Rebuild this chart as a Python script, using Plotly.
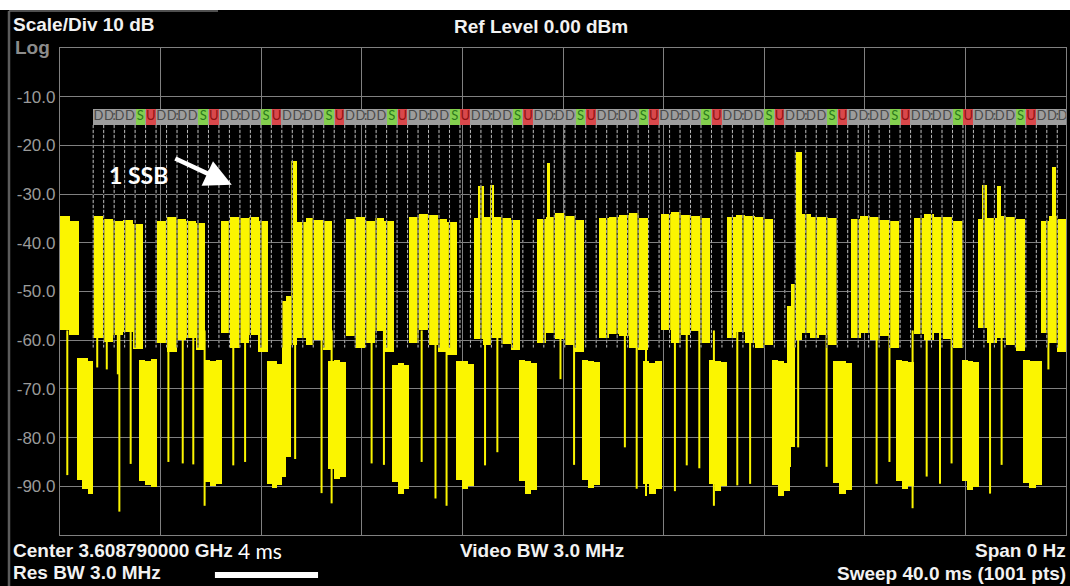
import plotly.graph_objects as go

# ---------------- data ----------------
sweep_ms = [0.0, 40.0]
level_range_dbm = [-100.0, 0.0]
ytick_dbm = [-10, -20, -30, -40, -50, -60, -70, -80, -90]
ytick_labels = ["-10.0", "-20.0", "-30.0", "-40.0", "-50.0", "-60.0", "-70.0", "-80.0", "-90.0"]

# downlink bursts (start/end in ms) with sub-block top and floor levels (dBm)
dl_start_ms = [0.00, 1.32, 3.88, 6.40, 9.42, 11.37, 13.89, 16.46, 18.95, 21.45, 23.92,
               26.51, 29.49, 31.44, 33.96, 36.51, 38.99]
dl_end_ms = [0.76, 3.29, 5.77, 8.27, 10.80, 13.28, 15.77, 18.29, 20.83, 23.39, 25.84,
             28.36, 30.88, 33.37, 35.89, 38.37, 40.00]
dl_top_dbm = [
    [-34.5, -35.5],
    [-34.5, -35.2, -35.6, -35.4, -36.2],
    [-35.6, -34.6, -35.2, -35.5, -36.0],
    [-35.5, -34.8, -35.0, -34.8, -35.6],
    [-35.8, -35.0, -35.4, -35.6],
    [-35.2, -34.7, -35.5, -35.0, -35.6],
    [-34.8, -34.0, -34.3, -35.2, -35.8],
    [-35.0, -34.6, -34.6, -35.0, -35.4],
    [-35.2, -34.8, -33.8, -34.5, -35.3],
    [-35.0, -34.6, -34.2, -33.8, -35.0],
    [-34.0, -33.7, -34.2, -34.5, -35.0],
    [-34.8, -34.2, -34.5, -34.6, -35.2],
    [-34.0, -34.6, -34.8, -35.0],
    [-35.2, -34.5, -34.8, -35.4, -35.6],
    [-35.0, -34.0, -34.8, -34.6, -35.6],
    [-35.2, -35.0, -34.5, -34.8, -35.2],
    [-35.6, -34.5, -35.2],
]
dl_floor_dbm = [
    [-58.0, -59.0],
    [-59.5, -60.3, -59.0, -58.4, -61.8],
    [-60.5, -62.5, -60.0, -59.5, -62.0],
    [-58.5, -61.5, -60.5, -59.0, -62.5],
    [-59.5, -61.0, -60.0, -62.0],
    [-59.2, -61.5, -60.5, -58.2, -62.5],
    [-60.5, -58.0, -61.0, -62.5, -63.0],
    [-59.8, -61.0, -59.5, -60.8, -62.0],
    [-60.5, -58.5, -59.8, -61.0, -62.5],
    [-59.5, -58.8, -59.2, -61.5, -62.0],
    [-58.0, -60.5, -59.0, -58.2, -60.5],
    [-59.5, -58.3, -60.5, -61.5, -61.0],
    [-58.5, -59.5, -59.0, -61.0],
    [-59.5, -58.5, -60.0, -59.2, -61.5],
    [-58.8, -60.0, -58.5, -59.8, -61.5],
    [-57.5, -60.5, -59.5, -61.0, -62.2],
    [-58.5, -60.5, -62.5],
]

# uplink (low level) blocks
ul_start_ms = [0.66, 3.14, 5.73, 8.22, 10.66, 13.19, 15.75, 18.26, 20.74, 23.19, 25.82,
               28.30, 30.75, 33.24, 35.85, 38.31]
ul_end_ms = [1.32, 3.87, 6.45, 8.84, 11.37, 13.89, 16.46, 18.95, 21.45, 23.92, 26.51,
             29.03, 31.48, 33.96, 36.55, 39.03]
ul_top_dbm = [
    [-63.7, -63.7, -64.2], [-64.0, -64.2, -63.8], [-64.0, -64.3, -64.0], [-64.3, -64.3, -64.8],
    [-64.2, -64.0, -64.5], [-65.0, -64.6, -65.0], [-64.3, -64.3, -64.8], [-64.0, -64.2, -64.6],
    [-64.0, -64.2, -64.5], [-64.3, -64.6, -64.3], [-64.0, -64.2, -64.5], [-64.0, -64.3, -64.6],
    [-64.3, -64.3, -64.6], [-64.0, -64.2, -64.5], [-64.0, -64.3, -64.5], [-64.0, -64.2, -64.3],
]
ul_floor_dbm = [
    [-88.7, -90.5, -91.5], [-89.0, -89.8, -90.2], [-89.2, -90.0, -89.5], [-89.6, -90.3, -89.8],
    [-86.5, -88.5, -88.0], [-89.2, -91.5, -90.5], [-88.8, -90.5, -90.0], [-89.0, -91.5, -90.8],
    [-88.7, -90.3, -89.8], [-89.5, -91.6, -90.5], [-89.5, -91.0, -90.0], [-89.7, -92.0, -91.0],
    [-89.4, -91.5, -90.8], [-89.0, -90.5, -90.0], [-89.0, -90.8, -90.2], [-89.4, -90.4, -89.8],
]

# rising edges in front of the SSB bursts
ramp_start_ms = [8.84, 9.00, 28.92, 29.07]
ramp_end_ms = [9.00, 9.18, 29.07, 29.22]
ramp_top_dbm = [-52.0, -51.0, -53.0, -48.5]
ramp_floor_dbm = [-88.0, -84.0, -86.0, -82.0]

# SSB peaks
ssb_start_ms = [9.18, 16.62, 17.09, 19.35, 29.22, 36.66, 37.25, 39.45]
ssb_end_ms = [9.42, 16.85, 17.25, 19.48, 29.49, 36.86, 37.40, 39.60]
ssb_peak_dbm = [-23.1, -28.4, -28.2, -23.7, -21.4, -28.2, -28.4, -24.5]
ssb_floor_dbm = [-61.0, -40.0, -40.0, -40.0, -60.0, -40.0, -40.0, -40.0]

# thin downward spikes
spike_ms = [0.29, 1.48, 1.86, 2.30, 2.36, 2.81, 4.31, 4.88, 5.30, 5.75, 6.89, 7.36, 9.35,
            10.40, 10.80, 12.39, 12.88, 14.38, 14.93, 15.37, 16.90, 17.39, 19.90, 20.44,
            22.46, 22.93, 23.30, 24.45, 24.92, 25.42, 26.00, 26.93, 27.44, 29.35, 30.48,
            32.47, 32.98, 33.90, 34.46, 34.99, 35.45, 36.98, 37.44, 39.30]
spike_floor_dbm = [-87.7, -65.6, -66.0, -67.0, -95.2, -85.4, -85.0, -85.3, -85.5, -94.0,
                   -85.7, -85.0, -84.4, -91.4, -93.5, -85.3, -85.6, -85.0, -92.5, -94.0,
                   -85.7, -83.0, -68.0, -85.6, -82.0, -90.5, -92.0, -91.0, -85.7, -86.3,
                   -94.0, -89.8, -89.5, -82.0, -86.0, -89.5, -85.0, -94.5, -88.0, -89.5,
                   -85.3, -91.5, -85.6, -66.0]
spike_top_dbm = -58.0

# TDD frame pattern overlay
tdd_pattern = ["D", "D", "D", "D", "S", "U"]
tdd_start_ms = 1.32
tdd_period_ms = 2.5
tdd_bar_dbm = [-15.8, -12.6]
tdd_marker_bottom_dbm = -61.5

# ---------------- figure ----------------
FIG_W, FIG_H = 1070, 586
ML, MR, MT, MB = 60, 4, 48, 51
PW, PH = FIG_W - ML - MR, FIG_H - MT - MB


def pxx(x):
    return (x - ML) / PW


def pxy(y):
    return (FIG_H - MB - y) / PH


YEL = "#fbf500"
fig = go.Figure()


def add_blocks(starts, ends, tops, floors):
    xs, ws, bases, hs = [], [], [], []
    for s, e, tp, fl in zip(starts, ends, tops, floors):
        n = len(tp)
        w = (e - s) / n
        for i in range(n):
            xs.append(s + w * (i + 0.5))
            ws.append(w * 1.02)
            bases.append(fl[i])
            hs.append(tp[i] - fl[i])
    fig.add_trace(go.Bar(x=xs, y=hs, base=bases, width=ws,
                         marker=dict(color=YEL, line=dict(width=0)),
                         hoverinfo="skip", showlegend=False))


add_blocks(dl_start_ms, dl_end_ms, dl_top_dbm, dl_floor_dbm)
add_blocks(ul_start_ms, ul_end_ms, ul_top_dbm, ul_floor_dbm)
add_blocks(ramp_start_ms, ramp_end_ms, [[v] for v in ramp_top_dbm], [[v] for v in ramp_floor_dbm])
add_blocks(ssb_start_ms, ssb_end_ms, [[v] for v in ssb_peak_dbm], [[v] for v in ssb_floor_dbm])

sx, sy = [], []
for t, f in zip(spike_ms, spike_floor_dbm):
    sx += [t, t, None]
    sy += [spike_top_dbm, f, None]
fig.add_trace(go.Scatter(x=sx, y=sy, mode="lines", line=dict(color=YEL, width=2),
                         hoverinfo="skip", showlegend=False))

# TDD cell boundaries
cell_ms = tdd_period_ms / len(tdd_pattern)
bounds = []
n = 0
while tdd_start_ms + n * cell_ms < sweep_ms[1]:
    bounds.append(tdd_start_ms + n * cell_ms)
    n += 1
bx, by = [], []
for b in bounds:
    bx += [b, b, None]
    by += [tdd_bar_dbm[0], tdd_marker_bottom_dbm, None]
fig.add_trace(go.Scatter(x=bx, y=by, mode="lines", line=dict(color="#1a1a1a", width=1.2),
                         hoverinfo="skip", showlegend=False))
fig.add_trace(go.Scatter(x=bx, y=by, mode="lines",
                         line=dict(color="#b8b8b8", width=1, dash="3px,2px"),
                         hoverinfo="skip", showlegend=False))

# TDD bar
fig.add_trace(go.Bar(x=[(tdd_start_ms + sweep_ms[1] + 1) / 2], y=[tdd_bar_dbm[1] - tdd_bar_dbm[0]],
                     base=[tdd_bar_dbm[0]], width=[sweep_ms[1] + 1 - tdd_start_ms],
                     marker=dict(color="#9d9d9d", line=dict(width=0)),
                     hoverinfo="skip", showlegend=False))
cx, cc, tx, tt, tc = [], [], [], [], []
edge_ms = sweep_ms[1] - 0.12
period = 0
while tdd_start_ms + period * tdd_period_ms < sweep_ms[1]:
    p0 = tdd_start_ms + period * tdd_period_ms
    for i, k in enumerate(tdd_pattern):
        c = p0 + (i + 0.5) * cell_ms
        if k in ("S", "U"):
            cx.append(c)
            cc.append("#84cf4e" if k == "S" else "#d9484b")
            col = "#2b7a1c" if k == "S" else "#8e1212"
        else:
            col = "#4a4a4a"
        if c < edge_ms:
            tx.append(c)
            tt.append(k)
            tc.append(col)
        if i == 1 and p0 + 2 * cell_ms < edge_ms:
            tx.append(p0 + 2 * cell_ms)
            tt.append(":")
            tc.append("#4a4a4a")
    period += 1
fig.add_trace(go.Bar(x=cx, y=[tdd_bar_dbm[1] - tdd_bar_dbm[0]] * len(cx),
                     base=[tdd_bar_dbm[0]] * len(cx), width=[cell_ms * 0.92] * len(cx),
                     marker=dict(color=cc, line=dict(width=0)),
                     hoverinfo="skip", showlegend=False))
fig.add_trace(go.Scatter(x=tx, y=[sum(tdd_bar_dbm) / 2] * len(tx), mode="text", text=tt,
                         textfont=dict(family="Lato", size=13, color=tc),
                         textposition="middle center", hoverinfo="skip", showlegend=False))

GRID = "#808080"
fig.update_layout(
    width=FIG_W, height=FIG_H,
    margin=dict(l=ML, r=MR, t=MT, b=MB, pad=0),
    paper_bgcolor="#000000", plot_bgcolor="#000000",
    barmode="overlay", bargap=0,
    showlegend=False,
    xaxis=dict(range=sweep_ms, dtick=4, tick0=0, showgrid=True, gridcolor=GRID, gridwidth=1.2,
               showticklabels=False, zeroline=False, showline=True, mirror=True,
               linecolor=GRID, linewidth=1.2, ticks=""),
    yaxis=dict(range=level_range_dbm, tickvals=ytick_dbm, ticktext=ytick_labels,
               showgrid=True, gridcolor=GRID, gridwidth=1.2, zeroline=False,
               showline=True, mirror=True, linecolor=GRID, linewidth=1.2, ticks="",
               tickfont=dict(family="Liberation Sans", size=17, color="#9a9a9a")),
)

WHITE = "#f2f2f2"
BOLD = "Liberation Sans"


def label(text, x, y, size=19, color=WHITE, family=BOLD, anchor="left", bold=True):
    fig.add_annotation(text=("<b>%s</b>" % text) if bold else text,
                       x=pxx(x), y=pxy(y), xref="paper", yref="paper",
                       xanchor=anchor, yanchor="middle", showarrow=False,
                       font=dict(family=family, size=size, color=color))


label("Scale/Div 10 dB", 11, 25)
label("Ref Level 0.00 dBm", 541, 26, anchor="center")
label("Log", 13, 47, size=19, color="#8c8c8c")
label("Center 3.608790000 GHz", 11, 550)
label("Res BW 3.0 MHz", 11, 572)
label("Video BW 3.0 MHz", 458, 550)
label("Span 0 Hz", 1068, 550, anchor="right")
label("Sweep 40.0 ms (1001 pts)", 1068, 573, anchor="right")
label("4 ms", 236, 550, size=21, family="Lato", bold=False, color="#ffffff")
label("1 SSB", 107, 175, size=23, family="Lato", color="#ffffff")

# arrow pointing at the SSB position
fig.add_annotation(x=6.83, y=-28.1, xref="x", yref="y", ax=-58, ay=-27, axref="pixel", ayref="pixel",
                   text="", showarrow=True, arrowhead=2, arrowsize=1.2, arrowwidth=4.5,
                   arrowcolor="#ffffff")

# 4 ms scale bar (below the plot, in time units)
fig.add_shape(type="rect", xref="x", yref="paper", x0=6.16, x1=10.26, y0=pxy(578), y1=pxy(572),
              fillcolor="#ffffff", line=dict(width=0), layer="above")

# screen frame: white strip on top and grey border on the left
fig.add_shape(type="rect", xref="paper", yref="paper", x0=pxx(0), x1=pxx(FIG_W), y0=pxy(10), y1=pxy(0),
              fillcolor="#ffffff", line=dict(width=0), layer="above")
fig.add_shape(type="line", xref="paper", yref="paper", x0=pxx(9), x1=pxx(9), y0=pxy(FIG_H), y1=pxy(11),
              line=dict(color="#5c5c5c", width=2.5), layer="above")
fig.add_shape(type="line", xref="paper", yref="paper", x0=pxx(9), x1=pxx(218), y0=pxy(11), y1=pxy(11),
              line=dict(color="#6a6a6a", width=1.5), layer="above")

fig.write_html("out.html", config={"displayModeBar": False})
